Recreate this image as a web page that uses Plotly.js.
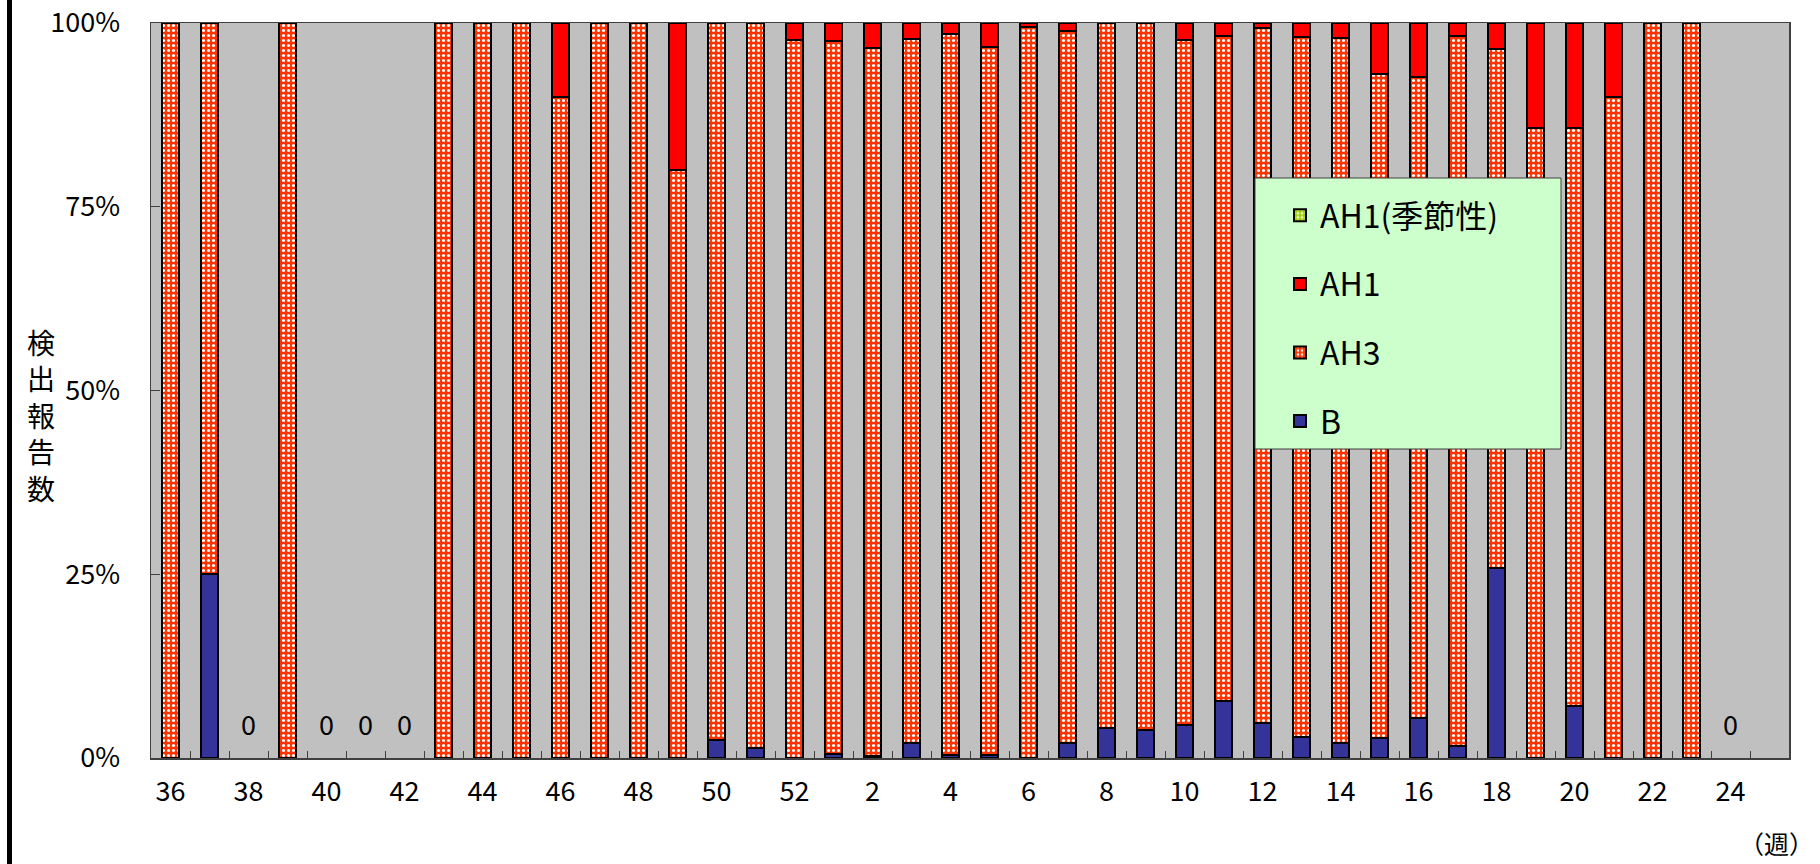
<!DOCTYPE html>
<html><head><meta charset="utf-8">
<script src="https://cdn.plot.ly/plotly-3.0.1.min.js"></script>
<style>
html,body{margin:0;padding:0;background:#fff;overflow:hidden;}
#chart{position:absolute;left:0;top:0;width:1820px;height:864px;}
#edge{position:absolute;left:7px;top:0;width:5px;height:864px;background:#000;}
</style>
</head><body><div id="chart"></div><div id="edge"></div>
<script>
// ---- data (percent of reports per week) ----
const weeks = ['36','37','38','39','40','41','42','43','44','45','46','47','48','49','50','51','52',
  '1','2','3','4','5','6','7','8','9','10','11','12','13','14','15','16','17','18','19','20','21','22','23','24','25'];
const labelWeeks = ['36','38','40','42','44','46','48','50','52','2','4','6','8','10','12','14','16','18','20','22','24'];
const seriesB = [0,25,0,0,0,0,0,0,0,0,0,0,0,0,2.4,1.4,0,
  0.6,0.3,2.0,0.4,0.4,0,2.0,4.1,3.8,4.5,7.7,4.7,2.8,2.0,2.7,5.5,1.6,25.9,0,7.1,0,0,0,0,null];
const seriesAH3 = [100,75,0,100,0,0,0,100,100,100,90,100,100,80,97.6,98.6,97.7,
  97.0,96.3,95.8,98.1,96.4,99.4,96.9,95.9,96.2,93.2,90.6,94.6,95.3,95.9,90.3,87.1,96.6,70.5,85.7,78.6,90,100,100,0,null];
const seriesAH1 = [0,0,0,0,0,0,0,0,0,0,10,0,0,20,0,0,2.3,
  2.4,3.4,2.2,1.5,3.2,0.6,1.1,0,0,2.3,1.7,0.7,1.9,2.1,7.0,7.4,1.8,3.6,14.3,14.3,10,0,0,0,null];
const seriesAH1s = [0,0,0,0,0,0,0,0,0,0,0,0,0,0,0,0,0,
  0,0,0,0,0,0,0,0,0,0,0,0,0,0,0,0,0,0,0,0,0,0,0,0,null];
const yTicks = [0,25,50,75,100];
const yTickText = ['0%','25%','50%','75%','100%'];

// ---- build ----
const FONT = '"Noto Sans CJK JP", "Noto Sans", sans-serif';
const outline = {color:'#000', width:2};
const barW = 0.42;
const nz = arr => arr.map(v => (v === 0 ? null : v));
function bar(name, y, marker, grp, rank){
  return {type:'bar', name:name, x:weeks, y:nz(y), width:barW, marker:marker,
          legendgroup:grp, legendrank:rank, hoverinfo:'skip'};
}
const traces = [
  bar('B', seriesB, {color:'#333399', line:outline}, 'g1', 4),
  bar('AH3', seriesAH3, {color:'#FF3300', line:outline,
      pattern:{shape:'.', fillmode:'replace', bgcolor:'#FF3300', fgcolor:'#FFFFFF', size:5, solidity:0.3}}, 'g2', 3),
  bar('AH1', seriesAH1, {color:'#FF0000', line:outline}, 'g3', 2),
  bar('AH1(季節性)', seriesAH1s, {color:'#99CC00', line:outline,
      pattern:{shape:'.', fillmode:'replace', bgcolor:'#99CC00', fgcolor:'#E6F5B0', size:5, solidity:0.45}}, 'g4', 1)
];
// "0" labels for weeks with zero reports
const zx = [], zy = [], zt = [];
weeks.forEach((w,i)=>{
  const tot = seriesB[i]===null ? null : seriesB[i]+seriesAH3[i]+seriesAH1[i]+seriesAH1s[i];
  if(tot===0){ zx.push(w); zy.push(4); zt.push('0'); }
});
traces.push({type:'scatter', mode:'text', x:zx, y:zy, text:zt, showlegend:false,
  textfont:{family:FONT, size:27, color:'#000'}, hoverinfo:'skip', cliponaxis:false});

const W = 1820, H = 864, L = 151, R = 1789, T = 23, B = 758;
const pw = R - L, ph = B - T;
const px = v => (v - L) / pw;
const py = v => (B - v) / ph;

const layout = {
  width:W, height:H,
  margin:{l:L, r:W-R, t:T, b:H-B, pad:0},
  paper_bgcolor:'#FFFFFF', plot_bgcolor:'#C0C0C0',
  barmode:'stack', showlegend:true,
  font:{family:FONT, size:27, color:'#000'},
  xaxis:{type:'category', categoryorder:'array', categoryarray:weeks,
    tickmode:'array', tickvals:weeks, ticktext:weeks.map(w => labelWeeks.includes(w) ? w : ''),
    tickson:'boundaries', ticks:'inside', ticklen:7, tickcolor:'#404040', tickwidth:1,
    showline:true, linecolor:'#404040', linewidth:1.5, mirror:true,
    showgrid:false, zeroline:false, ticklabelstandoff:9,
    tickfont:{family:FONT, size:27, color:'#000'}, range:[-0.5, weeks.length-0.5]},
  yaxis:{range:[0,100], tickmode:'array', tickvals:yTicks, ticktext:yTickText,
    ticks:'inside', ticklen:9, tickcolor:'#404040', tickwidth:1,
    showline:true, linecolor:'#404040', linewidth:1.5, mirror:true,
    showgrid:false, zeroline:false, ticklabelstandoff:24,
    tickfont:{family:FONT, size:27, color:'#000'}},
  legend:{x:px(1280), y:py(188), xanchor:'left', yanchor:'top',
    bgcolor:'rgba(0,0,0,0)', borderwidth:0,
    traceorder:'grouped', tracegroupgap:24,
    font:{family:FONT, size:32, color:'#000'}},
  shapes:[{type:'rect', xref:'paper', yref:'paper', layer:'above',
    x0:px(1255), x1:px(1561), y0:py(449), y1:py(178),
    fillcolor:'#CCFFCC', line:{color:'#404040', width:1}}],
  annotations:[
    {xref:'paper', yref:'paper', x:px(41), y:py(415), xanchor:'center', yanchor:'middle',
     text:'検<br>出<br>報<br>告<br>数', showarrow:false, font:{family:FONT, size:28, color:'#000'}},
    {xref:'paper', yref:'paper', x:px(1816), y:py(843), xanchor:'right', yanchor:'middle',
     text:'（週）', showarrow:false, font:{family:FONT, size:25, color:'#000'}}
  ]
};
Plotly.newPlot('chart', traces, layout, {staticPlot:true, displayModeBar:false});
</script>
</body></html>
